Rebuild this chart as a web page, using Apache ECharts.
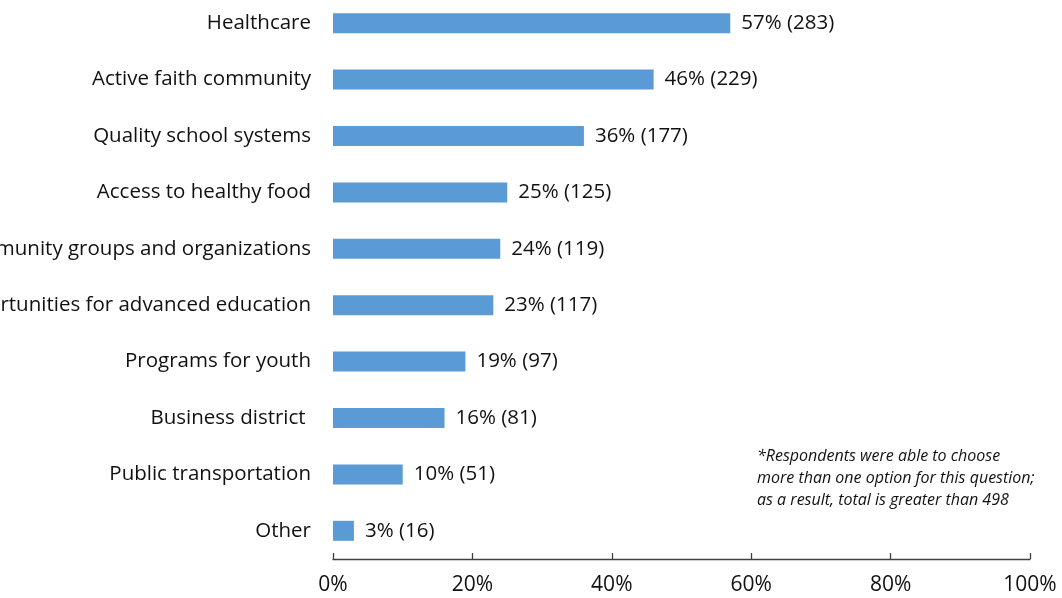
<!DOCTYPE html>
<html>
<head>
<meta charset="utf-8">
<script src="https://cdn.jsdelivr.net/npm/echarts@6/dist/echarts.min.js"></script>
<style>
  html, body { margin: 0; padding: 0; background: #fff; }
  #chart { width: 1062px; height: 598px; }
</style>
</head>
<body>
<div id="chart"></div>
<script>
// Community assets respondents value (top to bottom)
const categories = [
  'Healthcare',
  'Active faith community',
  'Quality school systems',
  'Access to healthy food',
  'Community groups and organizations',
  'Opportunities for advanced education',
  'Programs for youth',
  'Business district ',
  'Public transportation',
  'Other'
];
const percents = [57, 46, 36, 25, 24, 23, 19, 16, 10, 3];
const counts = [283, 229, 177, 125, 119, 117, 97, 81, 51, 16];
const xTicks = [0, 20, 40, 60, 80, 100];
const footnote = [
  '*Respondents were able to choose',
  'more than one option for this question;',
  'as a result, total is greater than 498'
];

const font = "'Open Sans', 'Noto Sans', sans-serif";
const textColor = '#111111';

const chart = echarts.init(document.getElementById('chart'), null, { renderer: 'canvas' });

chart.setOption({
  animation: false,
  grid: {
    left: 333, right: 32, top: -5, bottom: 39,
    containLabel: false,
    outerBoundsMode: 'none'
  },
  xAxis: {
    type: 'value',
    min: xTicks[0],
    max: xTicks[xTicks.length - 1],
    interval: 20,
    axisLine: { show: true, lineStyle: { color: '#404040', width: 1.3 } },
    axisTick: { show: true, inside: true, length: 6, lineStyle: { color: '#404040', width: 1.3 } },
    splitLine: { show: false },
    axisLabel: {
      formatter: v => v + '%',
      color: textColor, fontFamily: font, fontSize: 21, margin: 16
    }
  },
  yAxis: {
    type: 'category',
    inverse: true,
    data: categories,
    axisLine: { show: false },
    axisTick: { show: false },
    axisLabel: { color: textColor, fontFamily: font, fontSize: 20.5, margin: 22 }
  },
  series: [{
    type: 'bar',
    data: percents,
    barWidth: 20,
    itemStyle: { color: '#5B9BD5' },
    label: {
      show: true,
      position: 'right',
      distance: 11,
      color: textColor, fontFamily: font, fontSize: 20.5,
      formatter: p => percents[p.dataIndex] + '% (' + counts[p.dataIndex] + ')'
    }
  }],
  graphic: [{
    type: 'text',
    left: 757,
    top: 445,
    style: {
      text: footnote.join('\n'),
      fill: textColor,
      font: "italic 16px " + font,
      lineHeight: 22
    }
  }]
});
</script>
</body>
</html>
